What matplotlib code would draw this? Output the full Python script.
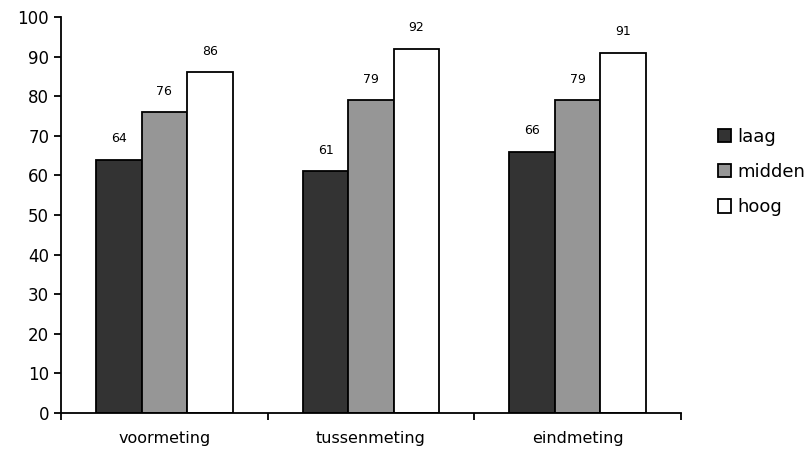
import matplotlib
matplotlib.use("Agg")
import matplotlib.pyplot as plt
import numpy as np

categories = ["voormeting", "tussenmeting", "eindmeting"]
series_names = ["laag", "midden", "hoog"]
laag = [64, 61, 66]
midden = [76, 79, 79]
hoog = [86, 92, 91]
colors = ["#333333", "#969696", "#ffffff"]

fig = plt.figure(figsize=(8.12, 4.54), dpi=100)
ax = fig.add_axes([0.0751, 0.0903, 0.7636, 0.8723])

x = np.arange(len(categories))
w = 0.22
for i, (vals, c, name) in enumerate(zip([laag, midden, hoog], colors, series_names)):
    bars = ax.bar(x + (i - 1) * w, vals, w, color=c, edgecolor="black", linewidth=1.3, label=name)
    for b, v in zip(bars, vals):
        ax.text(b.get_x() + b.get_width() / 2, v + 5.3, str(v), ha="center", va="center", fontsize=9)

ax.set_xlim(-0.5, 2.5)
ax.set_ylim(0, 100)
ax.set_yticks(range(0, 101, 10))
ax.set_xticks([-0.5, 0.5, 1.5, 2.5], minor=False)
ax.set_xticklabels([])
ax.set_xticks(x, minor=True)
ax.set_xticklabels(categories, minor=True, fontsize=11.5)
ax.tick_params(axis="x", which="minor", length=0, pad=13)
ax.tick_params(axis="x", which="major", length=5, width=1.3, direction="out")
ax.tick_params(axis="y", length=5, width=1.3, labelsize=12)
for s in ["top", "right"]:
    ax.spines[s].set_visible(False)
for s in ["left", "bottom"]:
    ax.spines[s].set_linewidth(1.3)

fig.legend(loc="center left", bbox_to_anchor=(0.884, 0.621), frameon=False, fontsize=13,
           handlelength=0.75, handleheight=0.75, handletextpad=0.35, labelspacing=0.95,
           borderpad=0, borderaxespad=0)

fig.savefig("out.png", dpi=100)
